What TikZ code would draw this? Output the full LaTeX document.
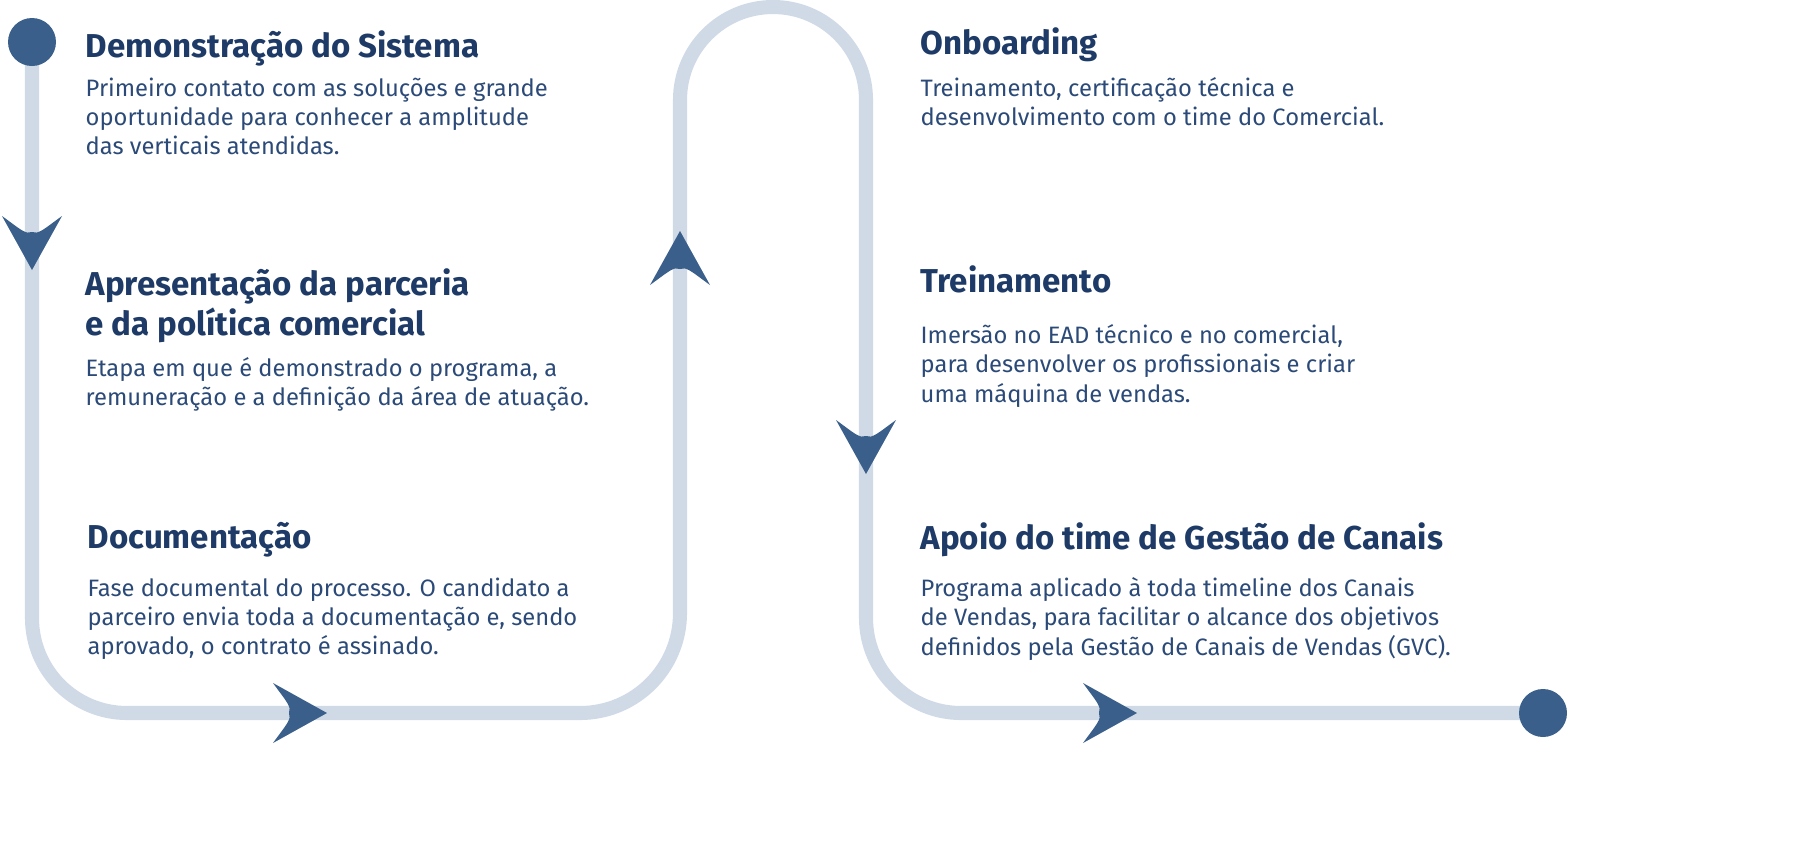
\documentclass[tikz,border=0pt]{standalone}
\usepackage{fontspec}
\setmainfont{Fira Sans}
\definecolor{trackgray}{HTML}{D0DAE6}
\definecolor{markblue}{HTML}{3A5F8A}
\definecolor{titleblue}{HTML}{1E3A66}
\definecolor{bodyblue}{HTML}{2B4A78}
\tikzset{
  track/.style={draw=trackgray,line width=4pt},
  dotmark/.style={fill=markblue},
  titletext/.style={anchor=north west,inner sep=0pt,text=titleblue,font=\fontsize{9.4}{11.3}\selectfont\bfseries,align=left},
  bodytext/.style={anchor=north west,inner sep=0pt,text=bodyblue,font=\fontsize{6.75}{8.3}\selectfont,align=left},
  chevron/.pic={\fill[markblue] (27,0) -- (-27,30) .. controls (-14,12) and (-8,6) .. (-11,0)
      .. controls (-8,-6) and (-14,-12) .. (-27,-30) -- cycle;}
}
\begin{document}
\begin{tikzpicture}[x=0.01cm,y=0.01cm]
\useasboundingbox (0,0) rectangle (1800,-857);
% track
\draw[track] (32,-42) -- (32,-618) arc[start angle=180,end angle=270,radius=95]
  -- (580,-713) arc[start angle=-90,end angle=0,radius=100] -- (680,-100)
  arc[start angle=180,end angle=0,radius=93] -- (866,-618)
  arc[start angle=180,end angle=270,radius=95] -- (1543,-713);
\fill[dotmark] (32,-42) circle (24);
\fill[dotmark] (1543,-713) circle (24);
% arrows
\pic[rotate=-90] at (32,-243) {chevron};
\pic at (300,-713) {chevron};
\pic[rotate=90] at (680,-258) {chevron};
\pic[rotate=-90] at (866,-447) {chevron};
\pic at (1110,-713) {chevron};
% left column
\node[titletext] (t1) at (85,-30) {Demonstração do Sistema};
\node[bodytext] (b1) at (85,-77) {Primeiro contato com as soluções e grande\\oportunidade para conhecer a amplitude\\das verticais atendidas.};
\node[titletext] (t2) at (85,-268) {Apresentação da parceria\\e da política comercial};
\node[bodytext] (b2) at (85,-357) {Etapa em que é demonstrado o programa, a\\remuneração e a definição da área de atuação.};
\node[titletext] (t3) at (87,-522) {Documentação};
\node[bodytext] (b3) at (87,-577) {Fase documental do processo. O candidato a\\parceiro envia toda a documentação e, sendo\\aprovado, o contrato é assinado.};
% right column
\node[titletext] (t4) at (920,-27) {Onboarding};
\node[bodytext] (b4) at (920,-77) {Treinamento, certificação técnica e\\desenvolvimento com o time do Comercial.};
\node[titletext] (t5) at (920,-265) {Treinamento};
\node[bodytext] (b5) at (920,-324) {Imersão no EAD técnico e no comercial,\\para desenvolver os profissionais e criar\\uma máquina de vendas.};
\node[titletext] (t6) at (920,-522) {Apoio do time de Gestão de Canais};
\node[bodytext] (b6) at (920,-577) {Programa aplicado à toda timeline dos Canais\\de Vendas, para facilitar o alcance dos objetivos\\definidos pela Gestão de Canais de Vendas (GVC).};
\end{tikzpicture}
\end{document}
